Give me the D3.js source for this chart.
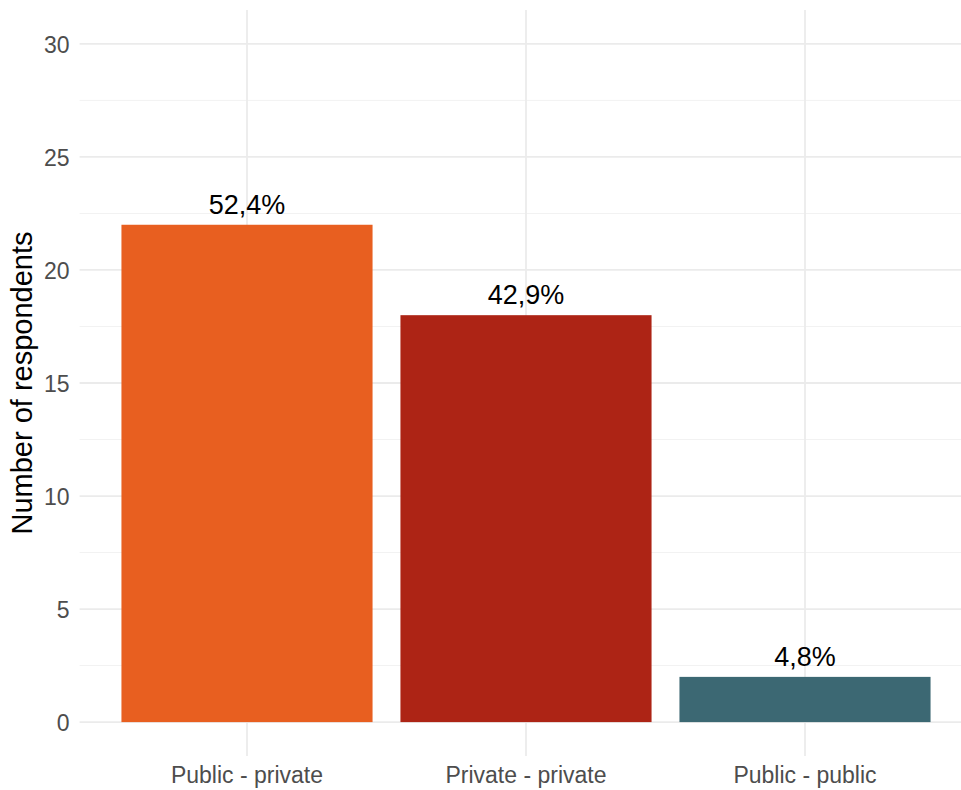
<!DOCTYPE html>
<html><head><meta charset="utf-8">
<script src="https://cdn.jsdelivr.net/npm/d3@7"></script>
<style>body{margin:0;background:#fff}svg{display:block;font-family:"Liberation Sans",Arial,sans-serif}</style>
</head><body><svg id="c" width="961" height="790"></svg>
<script>
const categories = ["Public - private", "Private - private", "Public - public"];
const counts = [22, 18, 2];
const percentLabels = ["52,4%", "42,9%", "4,8%"];
const barColors = ["#E85F20", "#AD2415", "#3C6873"];
const yTicks = [0, 5, 10, 15, 20, 25, 30];
const yMinorTicks = [2.5, 7.5, 12.5, 17.5, 22.5, 27.5];

const svg = d3.select("#c");
const pLeft = 79.6, pRight = 972.4, pTop = 10, pBottom = 756;

// discrete axis with ggplot-like 0.6 expansion
const step = (pRight - pLeft) / (categories.length - 1 + 1.2);
const x = d3.scaleBand().domain(categories)
  .range([pLeft + 0.6 * step - step / 2, pRight - 0.6 * step + step / 2])
  .paddingInner(0.1).paddingOuter(0.05);
const y = d3.scaleLinear().domain([-1.5, 31.5]).range([pBottom, pTop]);

const g = svg.append("g");
// minor grid
g.selectAll(".minor").data(yMinorTicks).join("line")
  .attr("x1", pLeft).attr("x2", pRight)
  .attr("y1", d => y(d)).attr("y2", d => y(d))
  .attr("stroke", "#F2F2F2").attr("stroke-width", 1);
// major grid
g.selectAll(".major").data(yTicks).join("line")
  .attr("x1", pLeft).attr("x2", pRight)
  .attr("y1", d => y(d)).attr("y2", d => y(d))
  .attr("stroke", "#EBEBEB").attr("stroke-width", 1.8);
g.selectAll(".vgrid").data(categories).join("line")
  .attr("x1", d => x(d) + x.bandwidth() / 2).attr("x2", d => x(d) + x.bandwidth() / 2)
  .attr("y1", pTop).attr("y2", pBottom)
  .attr("stroke", "#EBEBEB").attr("stroke-width", 1.8);

// bars
g.selectAll(".bar").data(categories).join("rect")
  .attr("x", d => x(d)).attr("width", x.bandwidth())
  .attr("y", (d, i) => y(counts[i]))
  .attr("height", (d, i) => y(0) - y(counts[i]))
  .attr("fill", (d, i) => barColors[i]);

// value labels
g.selectAll(".lbl").data(categories).join("text")
  .attr("x", d => x(d) + x.bandwidth() / 2)
  .attr("y", (d, i) => y(counts[i]) - 11)
  .attr("text-anchor", "middle")
  .attr("font-size", 27).attr("fill", "#000")
  .text((d, i) => percentLabels[i]);

// y axis
const yAxis = d3.axisLeft(y).tickValues(yTicks).tickSize(0).tickPadding(10);
const ya = svg.append("g").attr("transform", `translate(${pLeft},0)`).call(yAxis);
ya.select(".domain").remove();
ya.selectAll("text").attr("font-size", 23).attr("fill", "#4D4D4D")
  .attr("font-family", "Liberation Sans, Arial, sans-serif").attr("dy", "0.36em");

// x axis
const xAxis = d3.axisBottom(x).tickSize(0).tickPadding(0);
const xa = svg.append("g").attr("transform", `translate(0,${pBottom})`).call(xAxis);
xa.select(".domain").remove();
xa.selectAll("text").attr("font-size", 23).attr("fill", "#4D4D4D")
  .attr("font-family", "Liberation Sans, Arial, sans-serif")
  .attr("dy", null).attr("y", 27);

// y title
svg.append("text")
  .attr("transform", `translate(32,${(pTop + pBottom) / 2}) rotate(-90)`)
  .attr("text-anchor", "middle").attr("font-size", 29).attr("fill", "#000")
  .text("Number of respondents");
</script></body></html>
